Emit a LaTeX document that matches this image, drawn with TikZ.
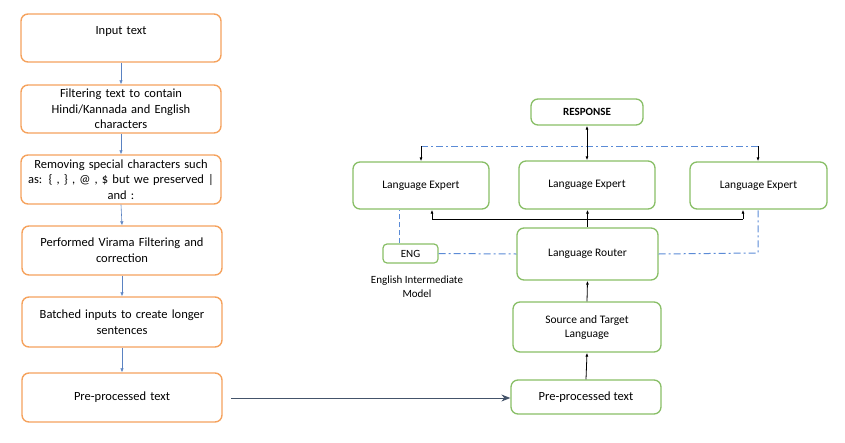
\documentclass[tikz,border=0pt]{standalone}
\usepackage{fontspec}
\setmainfont{Carlito}
\usetikzlibrary{arrows.meta}
\definecolor{boxorange}{HTML}{F5A25D}
\definecolor{boxgreen}{HTML}{88BE66}
\definecolor{lineblue}{HTML}{5B8BD6}
\definecolor{arrowblue}{HTML}{5A82C2}
\definecolor{slate}{HTML}{44546A}
\begin{document}
\begin{tikzpicture}[x=1pt,y=-1pt,
  obox/.style={draw=boxorange,line width=1.4pt,rounded corners=7pt,minimum width=200pt,align=center,text width=190pt,font=\fontsize{12.5}{15.6}\selectfont,inner sep=0pt},
  gbox/.style={draw=boxgreen,line width=1.3pt,rounded corners=7pt,align=center,font=\fontsize{11.5}{14}\selectfont,inner sep=0pt},
  bluearrow/.style={draw=arrowblue,line width=0.6pt,-{Latex[length=4pt,width=3.5pt]}},
  blackarrow/.style={draw=black,line width=0.8pt,-{Latex[length=4pt,width=3pt]}},
  dashdot/.style={draw=lineblue,line width=1pt,dash pattern=on 7pt off 3pt on 2pt off 3pt},
  bluedash/.style={draw=lineblue,line width=1pt,dash pattern=on 5pt off 3pt},
]
\useasboundingbox (0,0) rectangle (845,442);
% left column
\node[obox,minimum height=48pt] (b1) at (121,38) {Input text\\\mbox{}};
\node[obox,minimum height=48pt] (b2) at (121,109) {Filtering text to contain\\Hindi/Kannada and English\\characters};
\node[obox,minimum height=49pt] (b3) at (121,179.5) {Removing special characters such\\as: \{ , \} , @ , \$ but we preserved |\\and :};
\node[obox,minimum height=49pt] (b4) at (122,250.5) {Performed Virama Filtering and\\correction};
\node[obox,minimum height=50pt] (b5) at (122,322) {Batched inputs to create longer\\sentences};
\node[obox,minimum height=49pt] (b6) at (122,397.5) {Pre-processed text};
\draw[bluearrow] (b1.south) -- (b2.north);
\draw[bluearrow] (b2.south) -- (b3.north);
\draw[bluearrow] (b3.south) -- (b4.north);
\draw[bluearrow] (b4.south) -- (b5.north);
\draw[bluearrow] (b5.south) -- (b6.north);
% right side
\node[gbox,minimum width=112pt,minimum height=26pt,font=\bfseries\fontsize{11}{13}\selectfont] (resp) at (587,112) {RESPONSE};
\node[gbox,minimum width=136pt,minimum height=47pt] (e1) at (421,185.5) {Language Expert};
\node[gbox,minimum width=136pt,minimum height=48pt] (e2) at (587,185) {Language Expert};
\node[gbox,minimum width=137pt,minimum height=47pt] (e3) at (758.5,185.5) {Language Expert};
\node[gbox,minimum width=141pt,minimum height=52pt] (router) at (587.5,254) {Language Router};
\node[gbox,minimum width=55pt,minimum height=19pt,line width=1.2pt,rounded corners=4pt,font=\fontsize{11}{13}\selectfont] (eng) at (410.5,253.5) {ENG};
\node[align=center,font=\fontsize{11}{13.5}\selectfont,inner sep=0pt] (englabel) at (417,286.5) {English Intermediate\\Model};
\node[gbox,minimum width=148pt,minimum height=50pt] (src) at (587,327) {Source and Target\\Language};
\node[gbox,minimum width=150pt,minimum height=34pt,font=\fontsize{12.5}{15}\selectfont] (pre) at (586,397) {Pre-processed text};
% coordinates
\coordinate (tl) at (421,146);
\coordinate (tr) at (758,146);
\coordinate (bl) at (432,219);
\coordinate (bm) at (587.5,219);
\coordinate (br) at (743,219);
\coordinate (rr) at (758,253);
\coordinate (lstart) at (231,398);
% connectors
\draw[dashdot] (tl) -- (tr);
\draw[blackarrow] (tl) -- (e1.north);
\draw[blackarrow] (tr) -- (e3.north -| tr);
\draw[draw=black,line width=0.8pt,{Latex[length=4pt,width=3pt]}-{Latex[length=4pt,width=3pt]}] (resp.south) -- (e2.north);
\draw[black,line width=0.8pt] (router.north) -- (bm);
\draw[black,line width=0.8pt] (bl) -- (br);
\draw[blackarrow] (bl) -- (e1.south -| bl);
\draw[blackarrow] (bm) -- (e2.south -| bm);
\draw[blackarrow] (br) -- (e3.south -| br);
\draw[bluedash] (eng.north -| 399,0) -- (e1.south -| 399,0);
\draw[dashdot] (eng.east) -- (router.west);
\draw[dashdot] (router.east) -- (rr) -- (e3.south -| rr);
\draw[blackarrow] (src.north) -- (router.south);
\draw[blackarrow] (pre.north) -- (src.south);
\draw[draw=slate,line width=1pt,-{Stealth[length=9pt,width=7pt]}] (lstart) -- (pre.west |- lstart);
\end{tikzpicture}
\end{document}
